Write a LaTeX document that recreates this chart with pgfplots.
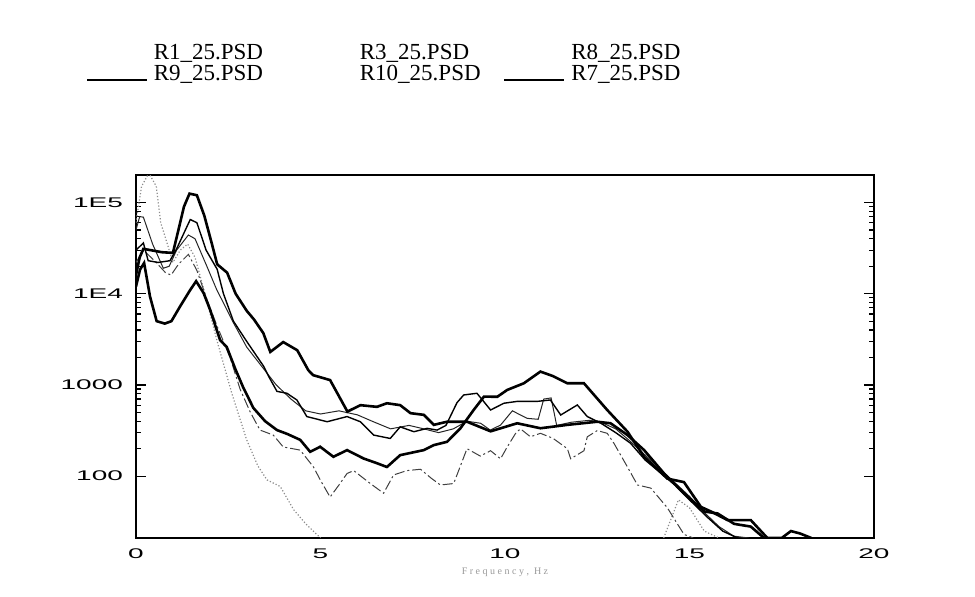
\documentclass[border=0pt]{standalone}
\usepackage{fontspec}
\setmainfont{Liberation Serif}
\newfontfamily\tickfont[FakeStretch=2.0]{Liberation Sans}
\usepackage{pgfplots}
\usepackage{pgfplotstable}
\pgfplotsset{compat=1.18}
\newcommand{\tk}[1]{\mbox{\tickfont\fontsize{7}{8}\selectfont #1}}

% power spectral densities, frequency (Hz) vs PSD
\pgfplotstableread{
x y
0 16000
0.1 25000
0.2 31000
0.4 30000
0.7 28500
1.0 28000
1.15 50000
1.3 90000
1.45 125000
1.65 120000
1.85 72000
2.05 36000
2.2 21000
2.47 17000
2.7 10000
3.0 6500
3.2 5200
3.45 3700
3.64 2300
3.99 2950
4.37 2400
4.67 1450
4.8 1280
5.26 1130
5.73 510
6.08 600
6.53 575
6.8 630
7.16 600
7.44 490
7.8 470
8.07 365
8.43 395
8.97 395
9.61 310
10.33 380
10.96 335
11.69 365
12.5 395
12.86 380
13.32 282
13.77 193
14.31 107
14.85 65
15.4 41
15.76 39
16.21 30
16.66 28
17.02 21
}\rseven

\pgfplotstableread{
x y
0 12000
0.11 18400
0.22 21700
0.38 9300
0.56 5000
0.78 4700
0.96 5000
1.19 7200
1.47 11000
1.63 13700
1.83 10200
2.0 6800
2.28 3100
2.46 2600
2.69 1500
2.9 950
3.18 560
3.5 400
3.82 320
4.1 290
4.45 250
4.72 185
4.99 210
5.35 163
5.72 193
6.17 156
6.5 140
6.8 126
7.16 170
7.8 193
8.07 219
8.43 238
8.79 334
9.15 531
9.43 745
9.79 741
10.06 881
10.51 1042
10.96 1400
11.3 1250
11.69 1042
12.14 1042
12.77 531
13.32 307
13.77 163
14.4 94
14.85 86
15.31 46
15.58 41
16.03 33
16.66 33
17.11 21
17.5 21
17.75 25
18.0 23.5
18.3 21
}\rnine

\pgfplotstableread{
x y
0 30000
0.2 36000
0.33 23000
0.6 22000
0.92 23000
1.1 31000
1.47 65000
1.65 60000
1.9 30000
2.2 18500
2.37 10000
2.64 5000
3.0 3000
3.46 1600
3.6 1230
3.82 850
4.09 810
4.36 684
4.63 450
5.18 395
5.72 450
6.08 395
6.44 282
6.89 259
7.16 347
7.53 307
7.89 334
8.16 320
8.4 360
8.7 640
8.88 776
9.24 810
9.61 531
9.97 630
10.33 660
10.87 660
11.23 684
11.51 468
11.96 603
12.23 450
12.6 380
13.0 300
13.4 230
13.8 150
14.2 110
14.6 80
15.0 55
15.5 35
15.9 25
16.3 21
}\rthree

\pgfplotstableread{
x y
0 50000
0.1 70000
0.2 69000
0.45 35000
0.74 19000
0.9 20000
1.1 30000
1.42 44000
1.6 40000
1.92 20000
2.19 11000
2.4 7500
2.64 4800
3.0 2600
3.46 1500
3.8 1000
4.2 700
4.6 520
5.0 480
5.5 520
6.0 470
6.4 400
6.9 330
7.4 360
7.8 330
8.2 300
8.6 330
8.97 400
9.34 380
9.6 320
9.88 363
10.2 520
10.6 430
10.9 420
11.05 700
11.25 720
11.4 360
11.8 390
12.3 410
12.6 390
13.0 330
13.4 240
13.8 170
14.2 120
14.6 85
15.0 60
15.4 40
15.8 28
16.2 22
16.6 21
}\rten

\pgfplotstableread{
x y
0 22000
0.2 30000
0.5 23000
0.8 17000
0.95 16000
1.15 21000
1.42 27000
1.65 18000
1.92 8700
2.19 4500
2.55 2000
2.82 900
3.1 500
3.36 320
3.72 282
3.99 209
4.45 193
4.81 126
5.0 90
5.26 59
5.5 80
5.72 107
5.9 115
6.35 83
6.71 65
6.98 103
7.34 115
7.71 119
8.0 95
8.25 80
8.61 83
8.97 200
9.33 166
9.61 190
9.88 155
10.06 209
10.3 300
10.42 330
10.69 270
10.96 295
11.3 260
11.69 200
11.78 155
12.14 190
12.23 270
12.5 316
12.77 295
12.95 230
13.3 130
13.59 80
13.95 74
14.4 45
14.85 23
15.1 21
}\reight

\pgfplotstableread{
x y
0 60000
0.15 150000
0.35 210000
0.55 150000
0.67 60000
0.85 35000
1.0 22000
1.2 30000
1.4 35000
1.6 25000
1.9 9000
2.2 3000
2.6 800
3.0 250
3.3 130
3.55 91
3.91 77
4.27 43
4.6 30
5.0 21
}\roneA

\pgfplotstableread{
x y
14.3 21
14.7 55
15.0 45
15.4 25
15.8 21
}\roneB

\begin{document}
\begin{tikzpicture}
\useasboundingbox (0,0) rectangle (487.5pt,298.5pt);
\begin{axis}[
  at={(68pt,29.5pt)}, anchor=south west,
  scale only axis, width=369pt, height=181.5pt,
  ymode=log, xmin=0, xmax=20, ymin=21, ymax=2.0e5,
  axis line style={line width=0.7pt},
  xtick={0,5,10,15,20},
  xticklabels={\tk{0},\tk{5},\tk{10},\tk{15},\tk{20}},
  ytick={100,1000,10000,100000},
  yticklabels={\tk{100},\tk{1000},\tk{1E4},\tk{1E5}},
  tick align=inside,
  major tick length=5pt, minor tick length=2.5pt,
  xtick style={draw=none},
  ytick style={line width=0.6pt, black},
  yticklabel style={xshift=-3pt},
  xticklabel style={yshift=-2pt},
  xlabel={\color{black!40}\fontsize{5}{6}\selectfont F r e q u e n c y ,\ \ H z},
  xlabel style={yshift=2.5pt},
  legend columns=3,
  legend cell align=left,
  legend image code/.code={\draw[#1] (0pt,-3pt) -- (30pt,-3pt);},
  legend style={draw=none, fill=none, inner sep=0pt,
    at={(-0.068,1.366)}, anchor=north west,
    font=\fontsize{11.5}{13}\selectfont,
    nodes={inner sep=1pt},
    row sep=-1pt,
    /tikz/every odd column/.append style={column sep=2pt},
    /tikz/column 2/.append style={column sep=14pt},
    /tikz/column 4/.append style={column sep=10.5pt}},
]
\addlegendimage{draw opacity=0}
\addlegendimage{draw opacity=0}
\addlegendimage{draw opacity=0}
\addlegendimage{black, line width=0.8pt}
\addlegendimage{draw opacity=0}
\addlegendimage{black, line width=0.8pt}
\legend{R1\_25.PSD, R3\_25.PSD, R8\_25.PSD, R9\_25.PSD, R10\_25.PSD, R7\_25.PSD}

\addplot[forget plot, black!45, densely dotted, line width=0.6pt] table {\roneA};
\addplot[forget plot, black!45, densely dotted, line width=0.6pt] table {\roneB};
\addplot[forget plot, black!75, line width=0.5pt, dash pattern=on 5pt off 1.5pt on 1pt off 1.5pt] table {\reight};
\addplot[forget plot, black!85, line width=0.5pt] table {\rten};
\addplot[forget plot, black, line width=0.7pt] table {\rthree};
\addplot[forget plot, black, line width=1.3pt] table {\rnine};
\addplot[forget plot, black, line width=1.3pt] table {\rseven};
\end{axis}
\end{tikzpicture}
\end{document}
